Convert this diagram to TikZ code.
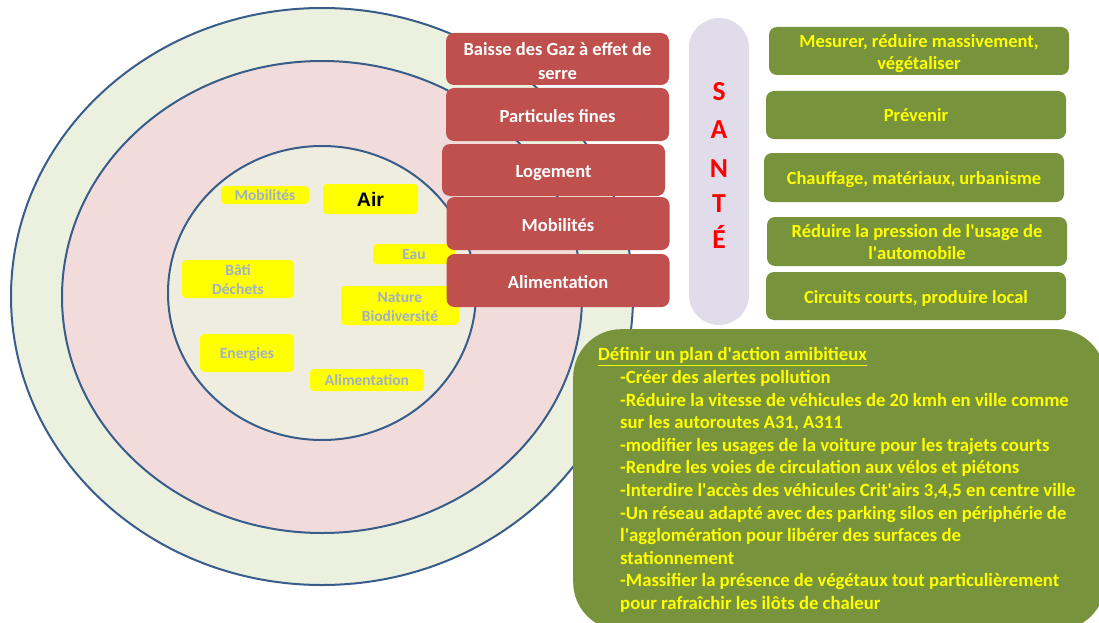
\documentclass[tikz,border=0pt]{standalone}
\usepackage{fontspec}
\setmainfont{Carlito}
\newfontfamily\arialfont{Liberation Sans}
\definecolor{outerfill}{HTML}{EBF1DE}
\definecolor{midfill}{HTML}{F2DCDB}
\definecolor{innerfill}{HTML}{EFEDE0}
\definecolor{ringline}{HTML}{385D8A}
\definecolor{ylw}{HTML}{FFFF00}
\definecolor{labelgray}{HTML}{9EB0CC}
\definecolor{redbox}{HTML}{C0504D}
\definecolor{pillfill}{HTML}{E0DCEA}
\definecolor{santered}{HTML}{FF0000}
\definecolor{greenbox}{HTML}{77933C}
\newcommand\sq{\textquotesingle}
\newcommand\lowered[2]{\raisebox{-#1}[\height][\depth]{\begin{tabular}{@{}c@{}}#2\end{tabular}}}
\tikzset{
  ring/.style={draw=ringline, line width=2pt},
  ylabel/.style={fill=ylw, rounded corners=4pt, inner sep=0pt, align=center,
    text=labelgray, font=\bfseries\fontsize{15.5}{19}\selectfont},
  redrect/.style={fill=redbox, rounded corners=8pt, inner sep=0pt, align=center,
    minimum width=223pt, text=white, font=\bfseries\fontsize{18.5}{24}\selectfont},
  greenrect/.style={fill=greenbox, rounded corners=8pt, inner sep=0pt, align=center,
    minimum width=300pt, text=ylw, font=\bfseries\fontsize{18.5}{22}\selectfont},
  santeletter/.style={anchor=base, inner sep=0pt, text=santered, font=\bfseries\fontsize{27.5}{30}\selectfont},
}
\begin{document}
\begin{tikzpicture}[x=1pt, y=-1pt]
\useasboundingbox (0,0) rectangle (1099,623);
\clip (0,0) rectangle (1099,623);
\fill[white] (0,0) rectangle (1099,623);

% rings
\draw[ring, fill=outerfill] (322,296.5) ellipse [x radius=311, y radius=288.5];
\draw[ring, fill=midfill] (322,297) ellipse [x radius=260, y radius=236];
\draw[ring, fill=innerfill] (322,293) ellipse [x radius=154, y radius=147];

% yellow labels
\node[ylabel, minimum width=88pt, minimum height=18pt] (ymob) at (265,195) {Mobilités};
\node[ylabel, minimum width=95pt, minimum height=30pt, text=black, font=\arialfont\bfseries\fontsize{19.5}{22}\selectfont] (yair) at (370.5,199) {Air};
\node[ylabel, minimum width=82pt, minimum height=20pt] (yeau) at (414,254) {\lowered{1.5pt}{Eau}};
\node[ylabel, minimum width=112pt, minimum height=36pt] (ybati) at (238,279) {\lowered{2pt}{Bâti\\Déchets}};
\node[ylabel, minimum width=118pt, minimum height=39pt] (ynat) at (400,305.5) {\lowered{3pt}{Nature\\Biodiversité}};
\node[ylabel, minimum width=94pt, minimum height=38pt] (yene) at (247,353) {\lowered{1.5pt}{Energies}};
\node[ylabel, minimum width=114pt, minimum height=22pt] (yali) at (367,380) {Alimentation};

% red boxes
\node[redrect, minimum height=52pt] (r1) at (557.5,59) {\lowered{3.5pt}{Baisse des Gaz à effet de\\serre}};
\node[redrect, minimum height=53pt] (r2) at (557.5,114.5) {\lowered{3pt}{Particules fines}};
\node[redrect, minimum height=52pt] (r3) at (553.5,170) {\lowered{3pt}{Logement}};
\node[redrect, minimum height=53pt] (r4) at (558,223.5) {\lowered{3pt}{Mobilités}};
\node[redrect, minimum height=53pt] (r5) at (558,280.5) {\lowered{3.5pt}{Alimentation}};

% SANTE pill
\node[fill=pillfill, rounded corners=30pt, minimum width=60pt, minimum height=307pt, inner sep=0pt] (pill) at (719,171.5) {};
\node[santeletter] (s1) at (719,101) {S};
\node[santeletter] (s2) at (719,139) {A};
\node[santeletter] (s3) at (719,177) {N};
\node[santeletter] (s4) at (719,212) {T};
\node[santeletter] (s5) at (719,248) {É};

% green boxes
\node[greenrect, minimum height=48pt] (g1) at (919,51) {\lowered{3pt}{Mesurer, réduire massivement,\\végétaliser}};
\node[greenrect, minimum height=48pt] (g2) at (916,115) {\lowered{2pt}{Prévenir}};
\node[greenrect, minimum height=49pt] (g3) at (914,177.5) {\lowered{3pt}{Chauffage, matériaux, urbanisme}};
\node[greenrect, minimum height=49pt] (g4) at (917,241.5) {\lowered{3pt}{Réduire la pression de l\sq usage de\\l\sq automobile}};
\node[greenrect, minimum height=48pt] (g5) at (916,296) {\lowered{3pt}{Circuits courts, produire local}};

% action plan
\node[fill=greenbox, rounded corners=48pt, minimum width=532pt, minimum height=301pt, inner sep=0pt, anchor=north west] (plan) at (573,329) {};
\node[anchor=north west, inner sep=0pt, align=left, text=ylw, font=\bfseries\fontsize{18.7}{22.6}\selectfont] (plantext) at (598,347.5) {%
\underline{Définir un plan d\sq action amibitieux}\\
\hspace*{22pt}-Créer des alertes pollution\\
\hspace*{22pt}-Réduire la vitesse de véhicules de 20 kmh en ville comme\\
\hspace*{22pt}sur les autoroutes A31, A311\\
\hspace*{22pt}-modifier les usages de la voiture pour les trajets courts\\
\hspace*{22pt}-Rendre les voies de circulation aux vélos et piétons\\
\hspace*{22pt}-Interdire l\sq accès des véhicules Crit\sq airs 3,4,5 en centre ville\\
\hspace*{22pt}-Un réseau adapté avec des parking silos en périphérie de\\
\hspace*{22pt}l\sq agglomération pour libérer des surfaces de\\
\hspace*{22pt}stationnement\\
\hspace*{22pt}-Massifier la présence de végétaux tout particulièrement\\
\hspace*{22pt}pour rafraîchir les ilôts de chaleur};
\end{tikzpicture}
\end{document}
